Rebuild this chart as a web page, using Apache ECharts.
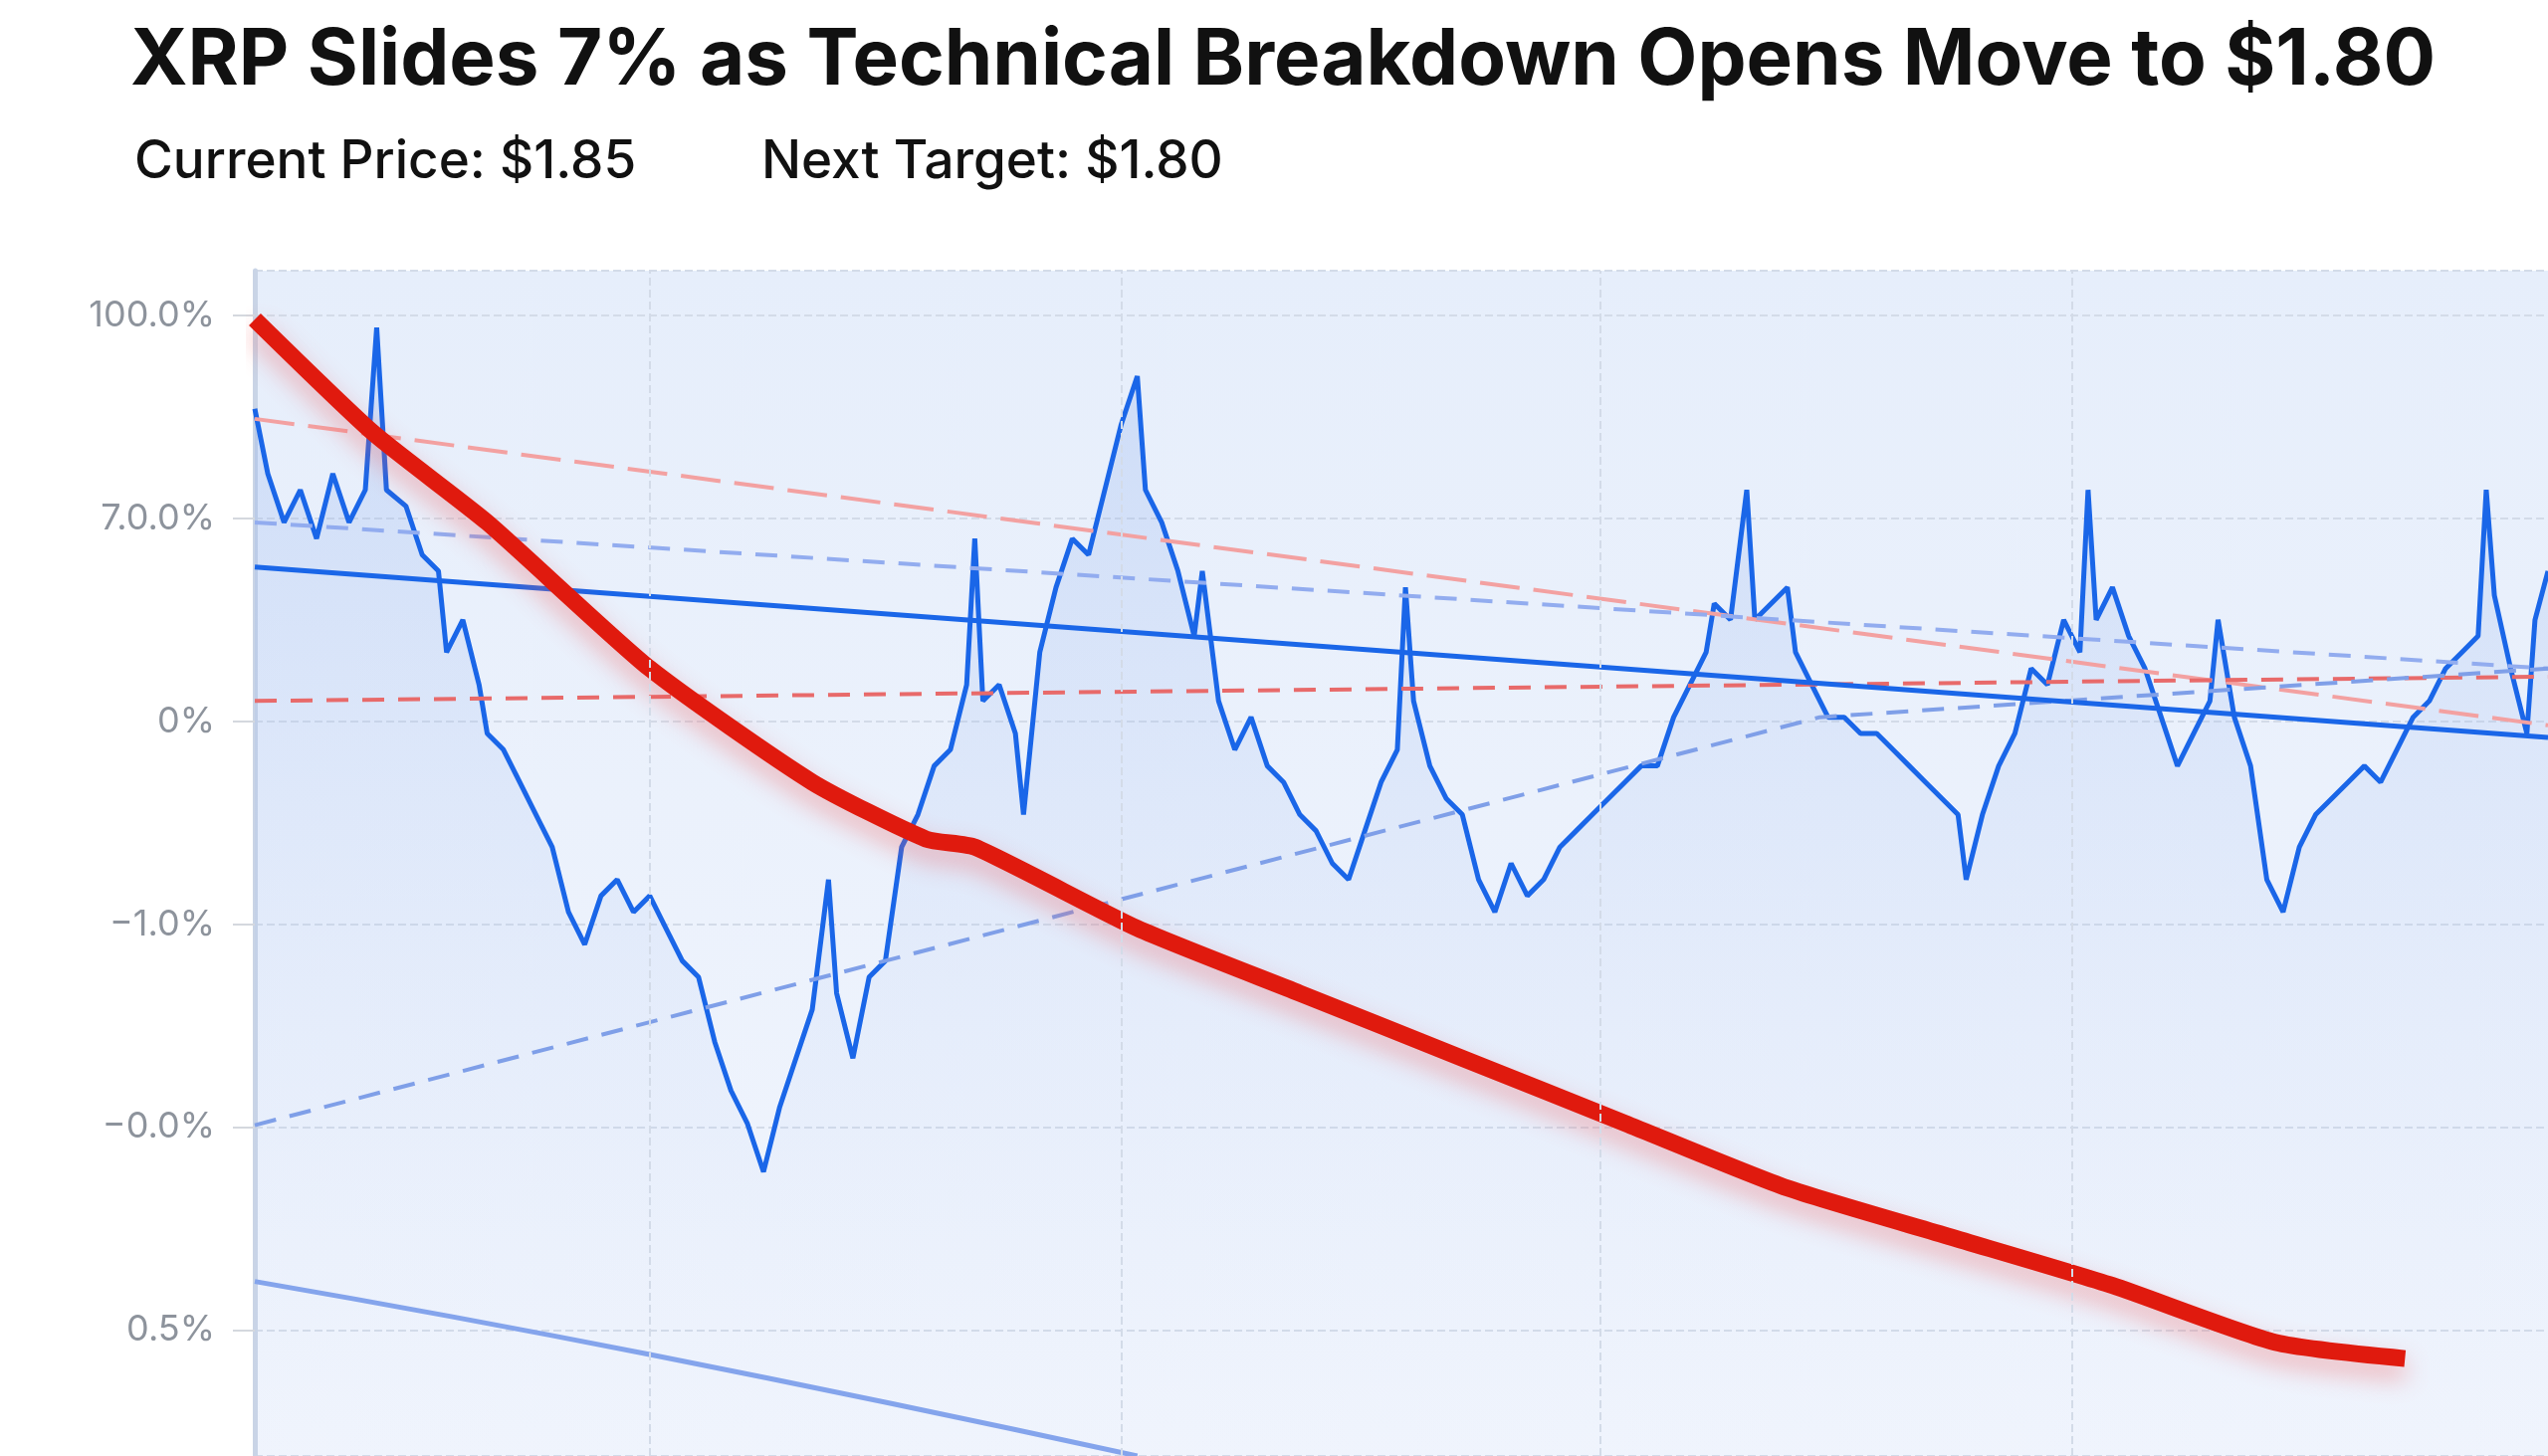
<!DOCTYPE html>
<html>
<head>
<meta charset="utf-8">
<script src="https://cdn.jsdelivr.net/npm/echarts@6/dist/echarts.min.js"></script>
<style>
  html, body { margin: 0; padding: 0; background: #fff; }
  #chart { width: 2560px; height: 1463px; }
</style>
</head>
<body>
<div id="chart"></div>
<script>
// time position along the chart
var priceX = [157,165,175,185,195,205,215,225,232,238,250,260,270,275,285,295,300,310,320,330,340,350,360,370,380,390,400,410,420,430,440,450,460,470,480,490,500,510,515,525,535,545,555,565,575,585,595,600,605,615,625,630,640,650,660,670,680,690,700,705,715,725,735,740,750,760,770,780,790,800,810,820,830,840,850,860,865,870,880,890,900,910,920,930,940,950,960,970,980,990,1000,1010,1020,1030,1040,1050,1055,1065,1075,1080,1090,1100,1105,1115,1125,1135,1145,1155,1165,1175,1185,1195,1205,1210,1220,1230,1240,1250,1260,1270,1280,1285,1290,1300,1310,1320,1330,1340,1350,1360,1365,1375,1385,1395,1405,1415,1425,1435,1445,1455,1465,1475,1485,1495,1505,1515,1525,1530,1535,1545,1555,1560,1568];
var priceY = [4.54,4.22,3.98,4.14,3.90,4.22,3.98,4.14,4.94,4.14,4.06,3.82,3.74,3.34,3.50,3.18,2.94,2.86,2.70,2.54,2.38,2.06,1.90,2.14,2.22,2.06,2.14,1.98,1.82,1.74,1.42,1.18,1.02,0.78,1.10,1.34,1.58,2.22,1.66,1.34,1.74,1.82,2.38,2.54,2.78,2.86,3.18,3.90,3.10,3.18,2.94,2.54,3.34,3.66,3.90,3.82,4.14,4.46,4.70,4.14,3.98,3.74,3.42,3.74,3.10,2.86,3.02,2.78,2.70,2.54,2.46,2.30,2.22,2.46,2.70,2.86,3.66,3.10,2.78,2.62,2.54,2.22,2.06,2.30,2.14,2.22,2.38,2.46,2.54,2.62,2.70,2.78,2.78,3.02,3.18,3.34,3.58,3.50,4.14,3.50,3.58,3.66,3.34,3.18,3.02,3.02,2.94,2.94,2.86,2.78,2.70,2.62,2.54,2.22,2.54,2.78,2.94,3.26,3.18,3.50,3.34,4.14,3.50,3.66,3.42,3.26,3.02,2.78,2.94,3.10,3.50,3.02,2.78,2.22,2.06,2.38,2.54,2.62,2.70,2.78,2.70,2.86,3.02,3.10,3.26,3.34,3.42,4.14,3.62,3.26,2.94,3.50,3.74];
var redX = [157,230,300,400,500,570,600,700,800,900,1000,1100,1200,1300,1400,1480];
var redY = [4.98,4.42,3.98,3.26,2.70,2.42,2.38,1.98,1.66,1.34,1.02,0.70,0.46,0.22,-0.06,-0.14];
var yTickLabels = {5: "100.0%", 4: "7.0.0%", 3: "0%", 2: "\u22121.0%", 1: "\u22120.0%", 0: "0.5%"};
var vGrid = [400, 690, 985, 1275];
var blueTrend = [[157, 3.76], [1568, 2.92]];
var pinkTrend = [[157, 4.49], [1568, 2.98]];
var redDash = [[157, 3.10], [1568, 3.22]];
var blueDashUp = [[157, 3.98], [1568, 3.26]];
var blueDashLow = [[157, 1.01], [1120, 3.02], [1568, 3.26]];
var lowCurve = [[157, 0.24], [400, -0.12], [700, -0.62]];

var chart = echarts.init(document.getElementById("chart"));
var zip = function (xs, ys) { return xs.map(function (x, i) { return [x, ys[i]]; }); };

chart.setOption({
  backgroundColor: "#ffffff",
  title: [
    { text: "XRP Slides 7% as Technical Breakdown Opens Move to $1.80", left: 126, top: 18,
      textStyle: { fontFamily: "Inter", fontSize: 78, fontWeight: "bold", color: "#111" } },
    { text: "Current Price: $1.85", left: 130, top: 132,
      textStyle: { fontFamily: "Inter", fontSize: 53, fontWeight: 500, color: "#111" } },
    { text: "Next Target: $1.80", left: 760, top: 132,
      textStyle: { fontFamily: "Inter", fontSize: 53, fontWeight: 500, color: "#111" } }
  ],
  grid: { left: 256, right: 0, top: 272, bottom: 0, show: true,
    backgroundColor: new echarts.graphic.LinearGradient(0, 0, 0, 1, [
      { offset: 0, color: "#e6eefb" }, { offset: 1, color: "#f1f5fd" }]),
    borderWidth: 0 },
  xAxis: { type: "value", min: 157, max: 1568, show: false },
  yAxis: {
    type: "value", min: -0.62, max: 5.22, splitNumber: 6,
    axisLine: { show: true, lineStyle: { color: "#c9d4e6", width: 5 } },
    axisTick: { show: true, length: 22, lineStyle: { color: "#d4d8de", width: 2 } },
    axisLabel: { fontFamily: "Inter", fontSize: 36, color: "#8d939c", margin: 40, showMinLabel: false, showMaxLabel: false,
      formatter: function (v) { return yTickLabels[v] || ""; } },
    splitLine: { lineStyle: { color: "#d3dbe8", type: "dashed", width: 2 } }
  },
  series: [
    { type: "line", data: [], markLine: { silent: true, symbol: "none", label: { show: false },
        lineStyle: { color: "#d3dbe8", type: "dashed", width: 2 },
        data: vGrid.map(function (x) { return { xAxis: x }; }) } },
    { type: "line", data: zip(priceX, priceY), symbol: "none",
      lineStyle: { color: "#1a66e8", width: 5 },
      areaStyle: { origin: "start", color: new echarts.graphic.LinearGradient(0, 0, 0, 1, [
        { offset: 0, color: "rgba(120,160,235,0.35)" }, { offset: 1, color: "rgba(200,215,245,0.05)" }]) } },
    { type: "line", data: pinkTrend, symbol: "none", lineStyle: { color: "#f3a1a1", width: 4, type: [40, 14] } },
    { type: "line", data: redDash, symbol: "none", lineStyle: { color: "#e86a6a", width: 4, type: [22, 14] } },
    { type: "line", data: blueDashUp, symbol: "none", lineStyle: { color: "#92acef", width: 4, type: [22, 14] } },
    { type: "line", data: blueDashLow, symbol: "none", lineStyle: { color: "#7f9fe8", width: 4, type: [22, 14] } },
    { type: "line", data: blueTrend, symbol: "none", lineStyle: { color: "#1a66e8", width: 5 } },
    { type: "line", data: lowCurve, symbol: "none", smooth: true, lineStyle: { color: "#84a4ec", width: 5 } },
    { type: "line", data: zip(redX, redY), symbol: "none", smooth: 0.2,
      lineStyle: { color: "#e01a0e", width: 17, shadowColor: "rgba(240,90,90,0.45)", shadowBlur: 24, shadowOffsetY: 12 } }
  ]
});
</script>
</body>
</html>
